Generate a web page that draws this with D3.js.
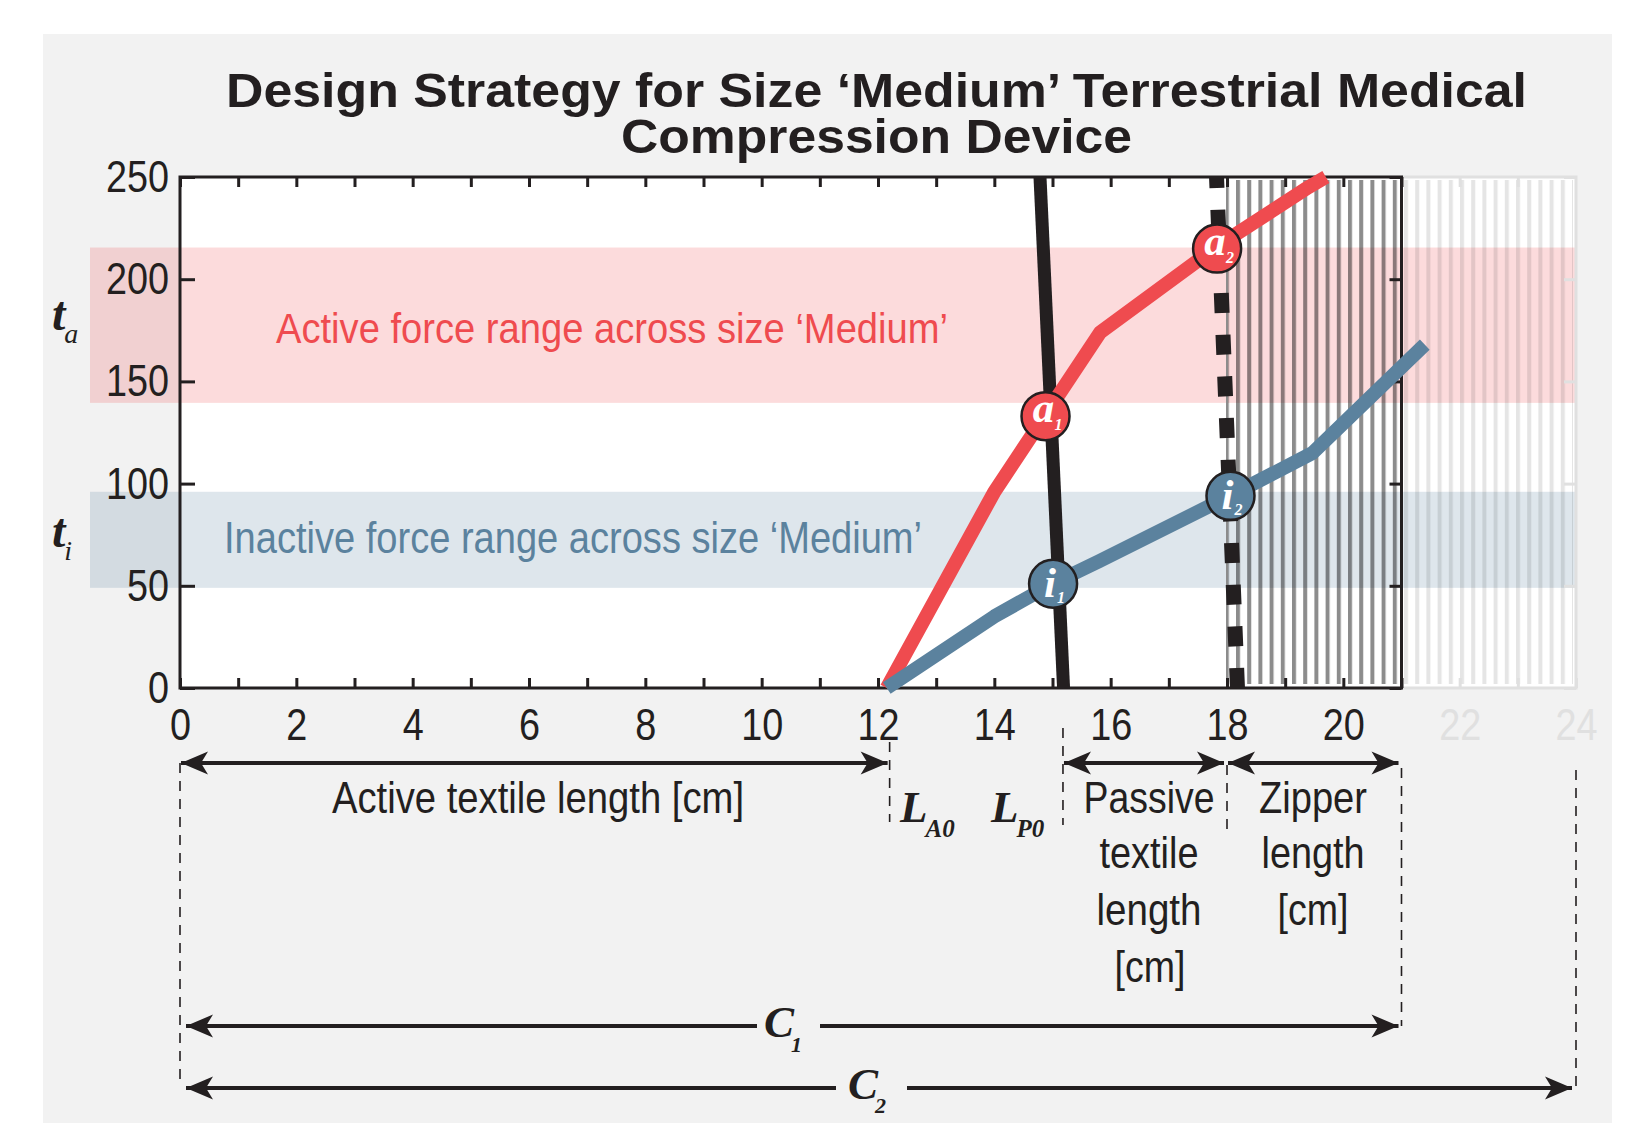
<!DOCTYPE html>
<html><head><meta charset="utf-8">
<script src="https://cdn.jsdelivr.net/npm/d3@7"></script>
<style>
body{margin:0;background:#fff;}
svg{display:block;}
</style></head><body>
<svg id="c" width="1638" height="1123"></svg>
<script>
// ---------------- data ----------------
const activeForce   = [[12.15,0],[14,96],[15.82,174],[17.83,216],[19.4,245],[19.7,250]];
const inactiveForce = [[12.15,0],[14,35],[15,51],[15.8,62],[18.05,94],[19.47,115],[21.4,168]];
const activeBand    = [139.5,215.5];
const inactiveBand  = [49,96];
const activeMarkers   = [{x:14.88,y:133,label:"a",sub:"1"},{x:17.83,y:215,label:"a",sub:"2"}];
const inactiveMarkers = [{x:15.01,y:51,label:"i",sub:"1"},{x:18.06,y:94,label:"i",sub:"2"}];
const solidBoundary  = [[15.19,0],[14.785,250]];
const dashedBoundary = [[18.18,0],[17.82,250]];
const zipperZone   = [18,21];
const extendedZone = [21,24];
const xTickValues  = [0,1,2,3,4,5,6,7,8,9,10,11,12,13,14,15,16,17,18,19,20,21];
const xFaintTicks  = [22,23,24];
const yTickValues  = [0,50,100,150,200,250];
const segmentBounds = [0,12.2,15.18,18,21,24]; // cm: LA0, LP0, passive end, C1, C2
const titleLines = ["Design Strategy for Size \u2018Medium\u2019 Terrestrial Medical","Compression Device"];
const activeBandLabel = "Active force range across size \u2018Medium\u2019";
const inactiveBandLabel = "Inactive force range across size \u2018Medium\u2019";

// ---------------- setup ----------------
const svg = d3.select("#c");
const x = d3.scaleLinear().domain([0,24]).range([180,1576]);
const y = d3.scaleLinear().domain([0,250]).range([688,177]);
const INK="#231f20", RED="#ef4b4f", BLUE="#5b829e", FAINT="#e0e0e0";
const SANS="'Liberation Sans', Arial, Helvetica, sans-serif";
const SERIF="'Liberation Serif', 'Times New Roman', serif";

function fitText(sel, width){
  sel.attr("textLength", width).attr("lengthAdjust","spacingAndGlyphs");
}
function squeeze(sel, k){
  sel.each(function(){
    if(!this.textContent) return;
    const L=this.getComputedTextLength();
    this.setAttribute("textLength", L*k);
    this.setAttribute("lengthAdjust","spacingAndGlyphs");
  });
}

// background panel
svg.append("rect").attr("x",43).attr("y",34).attr("width",1569).attr("height",1089).attr("fill","#f2f2f2");
// plot white area
svg.append("rect").attr("x",x(0)).attr("y",y(250)).attr("width",x(24)-x(0)).attr("height",y(0)-y(250)).attr("fill","#fff");

// title
const title = svg.append("g").attr("font-family",SANS).attr("font-weight","bold").attr("font-size",49).attr("fill",INK);
title.append("text").attr("x",226).attr("y",107).text(titleLines[0]).call(fitText,1301);
title.append("text").attr("x",621).attr("y",153).text(titleLines[1]).call(fitText,511);

// bands
svg.append("rect").attr("x",90).attr("width",x(24)+1-90)
  .attr("y",y(activeBand[1])).attr("height",y(activeBand[0])-y(activeBand[1]))
  .attr("fill",RED).attr("fill-opacity",0.2);
svg.append("rect").attr("x",90).attr("width",x(24)+1-90)
  .attr("y",y(inactiveBand[1])).attr("height",y(inactiveBand[0])-y(inactiveBand[1]))
  .attr("fill",BLUE).attr("fill-opacity",0.2);

svg.append("text").attr("x",276).attr("y",343).attr("font-family",SANS).attr("font-size",43)
  .attr("fill",RED).text(activeBandLabel).call(fitText,672);
svg.append("text").attr("x",224).attr("y",553).attr("font-family",SANS).attr("font-size",44)
  .attr("fill",BLUE).text(inactiveBandLabel).call(fitText,698);

// hatch patterns
const defs = svg.append("defs");
defs.append("pattern").attr("id","hatch").attr("patternUnits","userSpaceOnUse")
  .attr("x",1236).attr("y",0).attr("width",11.2).attr("height",10)
  .append("rect").attr("width",4).attr("height",10).attr("fill","#000").attr("fill-opacity",0.45);
defs.append("pattern").attr("id","hatchFaint").attr("patternUnits","userSpaceOnUse")
  .attr("x",1236).attr("y",0).attr("width",11.2).attr("height",10)
  .append("rect").attr("width",4).attr("height",10).attr("fill","#000").attr("fill-opacity",0.1);

svg.append("rect").attr("x",x(zipperZone[0])+1).attr("width",x(zipperZone[1])-x(zipperZone[0])-2)
  .attr("y",y(250)+3).attr("height",y(0)-y(250)-7).attr("fill","url(#hatch)");
svg.append("rect").attr("x",x(extendedZone[0])+1).attr("width",x(extendedZone[1])-x(extendedZone[0])-4)
  .attr("y",y(250)+3).attr("height",y(0)-y(250)-7).attr("fill","url(#hatchFaint)");
svg.append("line").attr("x1",x(zipperZone[0])).attr("x2",x(zipperZone[0]))
  .attr("y1",y(250)).attr("y2",y(0)).attr("stroke","#8c8c8c").attr("stroke-width",2);

// ---------------- axes ----------------
function styleAxis(g, color, size){
  g.select(".domain").remove();
  g.attr("font-family",SANS).attr("font-size",size||45);
  g.selectAll(".tick line").attr("stroke",color).attr("stroke-width",3);
  g.selectAll(".tick text").attr("fill",color);
}
// faint extension
const faint = svg.append("g");
faint.append("path").attr("d",`M${x(21)},${y(250)}H${x(24)}V${y(0)}H${x(21)}`)
  .attr("fill","none").attr("stroke",FAINT).attr("stroke-width",3);
faint.append("g").attr("transform",`translate(0,${y(0)})`)
  .call(d3.axisBottom(x).tickValues(xFaintTicks).tickFormat(d=>d%2?"":d).tickSizeInner(-10).tickSizeOuter(0).tickPadding(20))
  .call(styleAxis,FAINT).selectAll("text").call(squeeze,0.84);
faint.append("g").attr("transform",`translate(0,${y(250)})`)
  .call(d3.axisTop(x).tickValues(xFaintTicks.slice(0,2)).tickFormat("").tickSizeInner(-10).tickSizeOuter(0))
  .call(styleAxis,FAINT);
faint.append("g").attr("transform",`translate(${x(24)},0)`)
  .call(d3.axisRight(y).tickValues(yTickValues).tickFormat("").tickSizeInner(-12).tickSizeOuter(0))
  .call(styleAxis,FAINT);

// main frame
svg.append("path").attr("d",`M${x(0)},${y(250)}V${y(0)}H${x(21)}V${y(250)}Z`)
  .attr("fill","none").attr("stroke",INK).attr("stroke-width",3);
svg.append("g").attr("transform",`translate(0,${y(0)})`)
  .call(d3.axisBottom(x).tickValues(xTickValues).tickFormat(d=>d%2?"":d).tickSizeInner(-10).tickSizeOuter(0).tickPadding(20))
  .call(styleAxis,INK).selectAll("text").call(squeeze,0.84);
svg.append("g").attr("transform",`translate(0,${y(250)})`)
  .call(d3.axisTop(x).tickValues(xTickValues).tickFormat("").tickSizeInner(-10).tickSizeOuter(0))
  .call(styleAxis,INK);
svg.append("g").attr("transform",`translate(${x(0)},0)`)
  .call(d3.axisLeft(y).tickValues(yTickValues).tickSizeInner(-15).tickSizeOuter(0).tickPadding(11))
  .call(styleAxis,INK).selectAll("text").call(squeeze,0.84);
svg.append("g").attr("transform",`translate(${x(21)},0)`)
  .call(d3.axisRight(y).tickValues(yTickValues).tickFormat("").tickSizeInner(-12).tickSizeOuter(0))
  .call(styleAxis,INK);

// ---------------- marks ----------------
const line = d3.line().x(d=>x(d[0])).y(d=>y(d[1]));
svg.append("path").attr("d",line(solidBoundary)).attr("fill","none").attr("stroke",INK).attr("stroke-width",13);
svg.append("path").attr("d",line(dashedBoundary)).attr("fill","none").attr("stroke",INK).attr("stroke-width",15)
  .attr("stroke-dasharray","20 21.7");

svg.append("path").attr("d",line(activeForce)).attr("fill","none").attr("stroke",RED)
  .attr("stroke-width",14).attr("stroke-linejoin","round");
svg.append("path").attr("d",line(inactiveForce)).attr("fill","none").attr("stroke",BLUE)
  .attr("stroke-width",14).attr("stroke-linejoin","round");

function drawMarkers(data, color){
  const g = svg.append("g").selectAll("g").data(data).join("g")
    .attr("transform",d=>`translate(${x(d.x)},${y(d.y)})`);
  g.append("circle").attr("r",24).attr("fill",color).attr("stroke",INK).attr("stroke-width",2.5);
  g.append("text").attr("x",d=>d.label==="i"?-3:-2).attr("y",d=>d.label==="i"?13:6)
    .attr("text-anchor","middle").attr("font-family",SERIF).attr("font-style","italic").attr("font-weight","bold")
    .attr("font-size",43).attr("fill","#fff").text(d=>d.label);
  g.append("text").attr("x",d=>d.label==="i"?4:9).attr("y",d=>d.label==="i"?19:14)
    .attr("font-family",SERIF).attr("font-style","italic").attr("font-weight","bold")
    .attr("font-size",16).attr("fill","#fff").text(d=>d.sub);
}
drawMarkers(activeMarkers, RED);
drawMarkers(inactiveMarkers, BLUE);

// y-side symbols
function symbol(xp, yp, main, sub, size, subSize, dx, dy){
  const t = svg.append("text").attr("x",xp).attr("y",yp).attr("font-family",SERIF)
    .attr("font-style","italic").attr("fill",INK);
  t.append("tspan").attr("font-size",size).attr("font-weight","bold").text(main);
  t.append("tspan").attr("font-size",subSize).attr("dx",dx).attr("dy",dy).text(sub);
}
symbol(52,330,"t","a",48,28,-1,13);
symbol(52,547,"t","i",48,28,-1,13);

// ---------------- dimension annotations ----------------
defs.append("marker").attr("id","arr").attr("viewBox","-28 -12 30 24").attr("refX",0).attr("refY",0)
  .attr("markerWidth",30).attr("markerHeight",24).attr("markerUnits","userSpaceOnUse")
  .attr("orient","auto-start-reverse")
  .append("path").attr("d","M0,0L-27,-11.5L-20,0L-27,11.5Z").attr("fill",INK);

const ann = svg.append("g");
function dashV(v, y1, y2){
  ann.append("line").attr("x1",x(v)).attr("x2",x(v)).attr("y1",y1).attr("y2",y2)
    .attr("stroke",INK).attr("stroke-width",1.6).attr("stroke-dasharray","10 8");
}
dashV(segmentBounds[0],763,1086);
dashV(segmentBounds[1],742,822);
dashV(segmentBounds[2],728,825);
dashV(segmentBounds[3],765,837);
dashV(segmentBounds[4],768,1026);
dashV(segmentBounds[5],770,1088);

function arrow(x1, x2, yp, start, end){
  const p = ann.append("line").attr("x1",x1).attr("x2",x2).attr("y1",yp).attr("y2",yp)
    .attr("stroke",INK).attr("stroke-width",4);
  if(start) p.attr("marker-start","url(#arr)");
  if(end) p.attr("marker-end","url(#arr)");
}
arrow(x(segmentBounds[0])+1, x(segmentBounds[1])-2, 763, true, true);
arrow(x(segmentBounds[2])+1, x(segmentBounds[3])-3, 763, true, true);
arrow(x(segmentBounds[3])+1, x(segmentBounds[4])-3, 763, true, true);
arrow(757, x(segmentBounds[0])+6, 1026, false, true);
arrow(820, x(segmentBounds[4])-3, 1026, false, true);
arrow(836, x(segmentBounds[0])+6, 1088, false, true);
arrow(907, x(segmentBounds[5])-4, 1088, false, true);

const labels = ann.append("g").attr("font-family",SANS).attr("font-size",45).attr("fill",INK).attr("text-anchor","middle");
function lab(t, cx, by, w){ labels.append("text").attr("x",cx).attr("y",by).text(t).call(fitText,w); }
lab("Active textile length [cm]",538,813,412);
lab("Passive",1149,813,131);
lab("textile",1149,868,99);
lab("length",1149,925,105);
lab("[cm]",1150,982,71);
lab("Zipper",1313,813,108);
lab("length",1313,868,103);
lab("[cm]",1313,925,71);

function symB(xp, yp, main, sub, size, subSize, dx, dy){
  const t = ann.append("text").attr("x",xp).attr("y",yp).attr("font-family",SERIF)
    .attr("font-style","italic").attr("font-weight","bold").attr("fill",INK);
  t.append("tspan").attr("font-size",size).text(main);
  t.append("tspan").attr("font-size",subSize).attr("dx",dx).attr("dy",dy).text(sub);
}
symB(900,822,"L","A0",45,25,-2,15);
symB(991,822,"L","P0",45,25,-2,15);
symB(764,1037,"C","1",45,22,-3,15);
symB(848,1099,"C","2",45,22,-3,14);
</script>
</body></html>
